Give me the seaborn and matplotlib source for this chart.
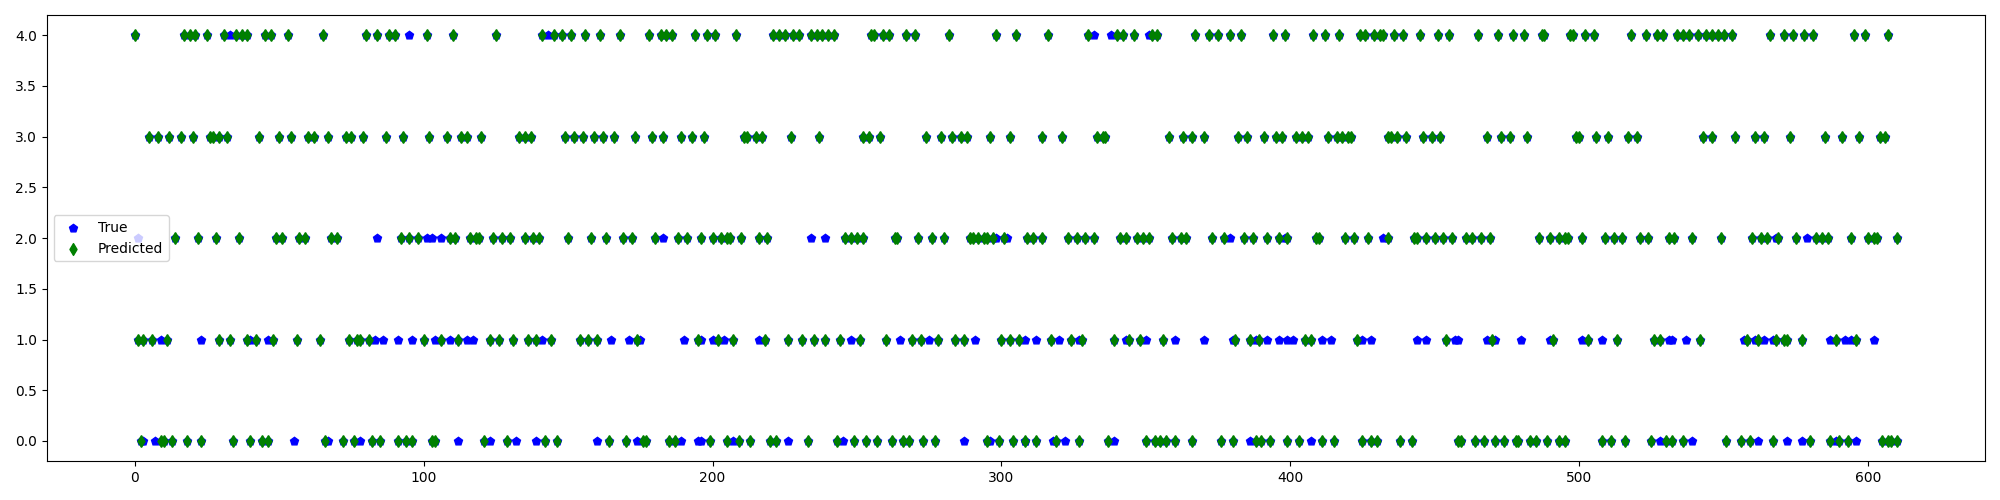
import matplotlib
matplotlib.use('Agg')
import matplotlib.pyplot as plt
import seaborn as sns
import pandas as pd

# sample indices where the model predicted each class (green diamonds)
pred_0 = [2, 9, 10, 13, 18, 23, 34, 40, 44, 46, 66, 72, 76, 82, 85, 91, 94, 96,
          103, 104, 121, 129, 142, 146, 164, 170, 176, 177, 185, 187, 199,
          205, 209, 213, 220, 222, 233, 243, 249, 253, 257, 262, 266, 268, 273, 277, 295, 299,
          304, 308, 312, 319, 327, 337, 350, 353, 355, 357, 360, 366, 376, 380, 388, 390, 393, 399,
          403, 411, 415, 425, 428, 430, 438, 442, 458, 459, 464, 467, 471, 474, 478, 479, 483, 485,
          489, 493, 495,
          508, 511, 516, 525, 530, 532, 536, 551, 556, 559, 567, 580, 587, 590, 593, 605, 607, 608, 610]
pred_1 = [1, 3, 6, 11, 29, 33, 39, 42, 48, 56, 64, 74, 77, 78, 81,
          100, 106, 112, 123, 126, 131, 136, 139, 144, 154, 157, 160, 174, 195,
          202, 207, 218, 226, 231, 235, 239, 244, 251, 260, 269, 272, 278, 284, 287, 300,
          303, 306, 317, 324, 328, 339, 344, 348, 356, 381, 386, 389,
          405, 407, 423, 454, 470, 491,
          503, 513, 526, 528, 542, 558, 562, 568, 571, 572, 577, 589, 596]
pred_2 = [14, 22, 28, 36, 49, 51, 57, 59, 68, 70, 92, 95, 98,
          109, 111, 116, 118, 119, 124, 127, 130, 135, 138, 140, 150, 158, 163, 169, 172, 180, 188,
          191, 196,
          200, 203, 205, 206, 210, 216, 219, 246, 248, 250, 252, 263, 264, 271, 276, 280, 289, 290,
          292, 294, 295, 297,
          301, 309, 311, 314, 323, 326, 329, 332, 341, 343, 347, 349, 351, 359, 362, 364, 373, 377,
          384, 387, 392, 396, 399,
          409, 410, 419, 422, 427, 434, 443, 444, 447, 450, 453, 456, 461, 463, 466, 469, 486, 490,
          493, 495, 496, 501,
          509, 512, 515, 521, 524, 531, 533, 539, 549, 560, 563, 565, 569, 575, 582, 584, 586, 594,
          600, 602, 603, 610]
pred_3 = [5, 8, 12, 16, 20, 26, 27, 29, 32, 43, 50, 54, 60, 62, 67, 73, 75, 79, 87, 93,
          102, 108, 113, 115, 120, 133, 135, 137, 149, 152, 155, 159, 162, 166, 173, 179, 183, 189,
          193, 197,
          211, 212, 215, 217, 227, 237, 252, 254, 258, 274, 279, 283, 286, 288, 296,
          303, 314, 321, 333, 335, 336, 358, 363, 366, 370, 382, 385, 391, 395, 397,
          402, 404, 406, 413, 416, 418, 420, 421, 434, 435, 437, 440, 446, 449, 452, 468, 473, 476,
          482, 499, 500,
          506, 510, 517, 520, 543, 546, 554, 561, 564, 573, 585, 591, 597, 604, 606]
pred_4 = [0, 17, 19, 21, 25, 31, 35, 37, 39, 45, 47, 53, 65, 80, 84, 88, 90,
          101, 110, 125, 141, 145, 148, 151, 156, 161, 168, 178, 182, 184, 186, 194, 198,
          201, 208, 221, 223, 225, 228, 230, 234, 236, 238, 240, 242, 255, 256, 259, 261, 267, 270,
          282, 298,
          305, 316, 330, 340, 342, 346, 352, 354, 367, 372, 375, 379, 383, 394, 398,
          408, 412, 417, 424, 426, 429, 431, 432, 436, 439, 445, 451, 455, 465, 472, 477, 481, 487,
          488, 497, 498,
          502, 505, 518, 523, 527, 529, 534, 536, 538, 541, 544, 546, 548, 550, 553, 566, 571, 574,
          578, 581, 595, 599, 607]

# true class of the misclassified samples (blue pentagons that show)
miss_0 = [3, 7, 55, 67, 78, 112, 123, 132, 139, 160, 174, 189, 195, 196, 207, 226, 245, 287,
          296, 308, 318, 322, 339, 386, 407, 528, 539, 562, 572, 577, 589, 596]
miss_1 = [9, 23, 40, 46, 83, 86, 91, 96, 104, 109, 115, 117, 141, 165, 171, 175, 190, 196, 200,
          204, 216, 248, 265, 275, 291, 308, 312, 320, 327, 343, 350, 360, 370, 380, 388, 392, 396,
          399, 401, 411, 414, 425, 428, 444, 447, 457, 458, 468, 471, 480, 490, 501, 508, 531, 532,
          537, 557, 561, 564, 567, 587, 592, 594, 602]
miss_2 = [1, 84, 101, 103, 106, 183, 234, 239, 298, 302, 379, 398, 432, 568, 579]
miss_3 = []
miss_4 = [33, 95, 143, 332, 338, 351]

pred_by_class = {0: pred_0, 1: pred_1, 2: pred_2, 3: pred_3, 4: pred_4}
miss_by_class = {0: miss_0, 1: miss_1, 2: miss_2, 3: miss_3, 4: miss_4}

df_pred = pd.DataFrame([(i, c) for c, idx in pred_by_class.items() for i in idx],
                       columns=['sample', 'label'])
df_true = pd.concat([df_pred,
                     pd.DataFrame([(i, c) for c, idx in miss_by_class.items() for i in idx],
                                  columns=['sample', 'label'])])

fig, ax = plt.subplots(figsize=(20, 5))
sns.scatterplot(data=df_true, x='sample', y='label', marker='p', color='blue',
                edgecolor='blue', s=36, linewidth=1, joinstyle='miter', label='True', ax=ax)
sns.scatterplot(data=df_pred, x='sample', y='label', marker='d', color='green',
                edgecolor='green', s=36, linewidth=1, joinstyle='miter', label='Predicted', ax=ax)
ax.set_xlabel('')
ax.set_ylabel('')
ax.legend(loc='center left')
plt.tight_layout()
plt.savefig('out.png', dpi=100)
